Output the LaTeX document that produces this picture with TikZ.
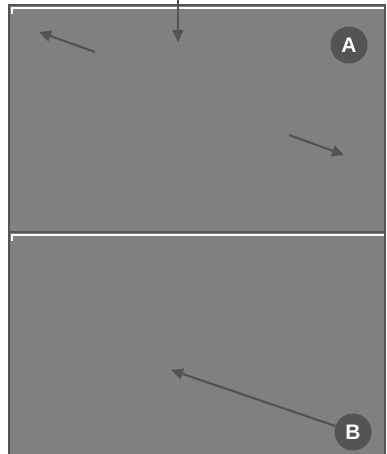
\documentclass[tikz,border=0pt]{standalone}
\usepackage{fontspec}
\setmainfont{Liberation Sans}
\usetikzlibrary{arrows.meta, positioning}
\definecolor{panelgray}{HTML}{808080}
\definecolor{darkgray}{HTML}{545454}

\begin{document}
\begin{tikzpicture}[x=1pt, y=-1pt,
  panel/.style={fill=panelgray, draw=darkgray, line width=2.2pt},
  rim/.style={draw=white, line width=1.8pt},
  pointer/.style={draw=darkgray, line width=2.2pt, -{Triangle[length=12pt, width=11pt]}},
  badge/.style={circle, fill=darkgray, text=white, minimum size=37pt, inner sep=0pt,
    font=\fontsize{21}{24}\selectfont\bfseries}]

\useasboundingbox (0,0) rectangle (386,454);

% Zwei Felder
\draw[panel] (9,5) rectangle (385,232);
\draw[panel] (9,232) rectangle (385,456);

% helle Kanten oben in den Feldern
\foreach \y in {8,235} {
  \draw[rim] (11,\y) -- (384,\y);
  \draw[rim, line width=2.6pt] (12,\y) -- (12,\y+6);
}

% Markierungen
\node[badge] (markA) at (349,45) {A};
\node[badge] (markB) at (353,432) {B};

% Enden der Pfeile
\coordinate (topTail) at (178,0);
\coordinate (topTip) at (178,42);
\coordinate (leftTail) at (95,52);
\coordinate (leftTip) at (39,32);
\coordinate (rightTail) at (289,135);
\coordinate (rightTip) at (344,155);
\coordinate (lowTip) at (171,370);

% Pfeile
\draw[pointer] (topTail) -- (topTip);
\draw[pointer] (leftTail) -- (leftTip);
\draw[pointer] (rightTail) -- (rightTip);
\draw[pointer] (markB) -- (lowTip);

\end{tikzpicture}
\end{document}
